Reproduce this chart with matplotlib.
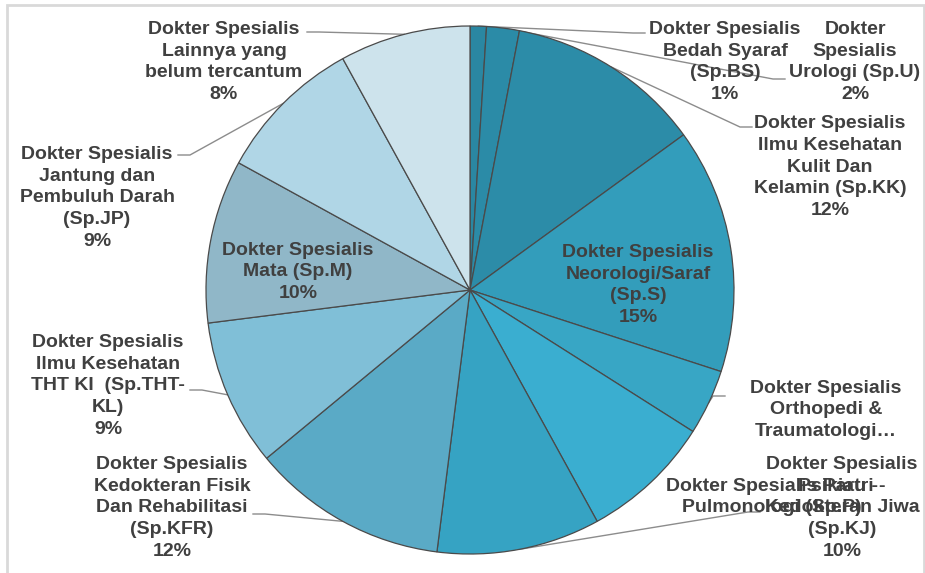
import numpy as np
import matplotlib.pyplot as plt
from matplotlib.patches import Rectangle

plt.rcParams['font.family'] = ['Liberation Sans', 'DejaVu Sans']

# data (percent of specialists), clockwise from 12 o'clock
labels = [
    "Dokter Spesialis\nBedah Syaraf\n(Sp.BS)",
    "Dokter\nSpesialis\nUrologi (Sp.U)",
    "Dokter Spesialis\nIlmu Kesehatan\nKulit Dan\nKelamin (Sp.KK)",
    "Dokter Spesialis\nNeorologi/Saraf\n(Sp.S)",
    "Dokter Spesialis\nOrthopedi &\nTraumatologi\u2026",
    "Dokter Spesialis Paru -\nPulmonologi (Sp.P)",
    "Dokter Spesialis\nPsikiatri -\nKedokteran Jiwa\n(Sp.KJ)",
    "Dokter Spesialis\nKedokteran Fisik\nDan Rehabilitasi\n(Sp.KFR)",
    "Dokter Spesialis\nIlmu Kesehatan\nTHT KI  (Sp.THT-\nKL)",
    "Dokter Spesialis\nMata (Sp.M)",
    "Dokter Spesialis\nJantung dan\nPembuluh Darah\n(Sp.JP)",
    "Dokter Spesialis\nLainnya yang\nbelum tercantum",
]
values = [1, 2, 12, 15, 4, 8, 10, 12, 9, 10, 9, 8]
show_pct = [True, True, True, True, False, False, True, True, True, True, True, True]

colors = ['#2a87a2', '#2b8ba7', '#2c8ca8', '#339dbb', '#38a6c5', '#3aaed0',
          '#36a3c3', '#5aaac6', '#80bfd7', '#90b7c8', '#b0d6e6', '#cde3ec']

# layout in pixel units (y measured from top of the image)
W, H = 925, 573
cx, cy, r = 470, 290, 264
# label centre (x, y) and leader end point (None = label inside the slice)
label_pos = [(725, 62), (855, 62), (830, 167), (638, 285), (826, 410),
             (772, 497), (842, 508), (172, 508), (108, 386), (298, 272),
             (97, 198), (224, 62)]
leader_end = [(645, 33), (785, 79), (752, 127), None, (725, 396),
              None, (760, 512), (253, 514), (190, 390), None,
              (178, 155), (307, 32)]
elbow = 12  # short horizontal run next to the label

fig = plt.figure(figsize=(W / 100, H / 100), dpi=100)
ax = fig.add_axes([0, 0, 1, 1])

wedges, _ = ax.pie(values, colors=colors, startangle=90, counterclock=False,
                   center=(cx, H - cy), radius=r,
                   wedgeprops=dict(edgecolor='#4a4a4a', linewidth=0.9))
ax.set_xlim(0, W)
ax.set_ylim(0, H)
ax.set_aspect('equal')
ax.axis('off')

# chart frame
ax.add_patch(Rectangle((7, -20), 917, H - 5 + 20, fill=False,
                       edgecolor='#d9d9d9', linewidth=2))

text_color = '#404040'
for w, lab, v, sp, pos, end in zip(wedges, labels, values, show_pct,
                                   label_pos, leader_end):
    txt = lab + ("\n%d%%" % v if sp else "")
    ax.text(pos[0], H - pos[1], txt, ha='center', va='center',
            fontsize=14, fontweight='bold', color=text_color,
            linespacing=1.38)
    if end is not None:
        ang = np.deg2rad((w.theta1 + w.theta2) / 2)
        sx = cx + r * np.cos(ang)
        sy = (H - cy) + r * np.sin(ang)
        # elbow points toward the pie side
        ex = end[0] - elbow if end[0] > sx else end[0] + elbow
        ax.plot([sx, ex, end[0]], [sy, H - end[1], H - end[1]],
                color='#8c8c8c', linewidth=1, zorder=0.5)

fig.savefig('out.png', dpi=100)
